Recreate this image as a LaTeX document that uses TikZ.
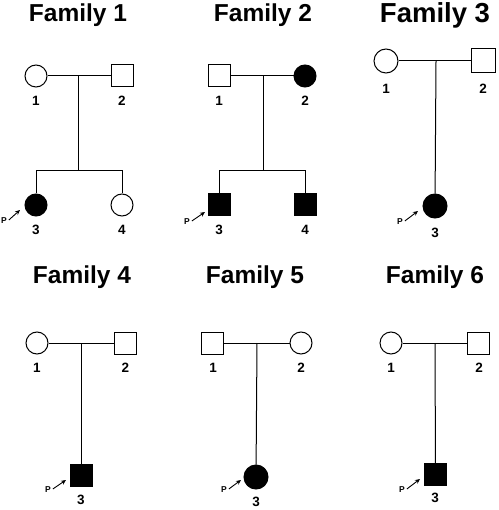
\documentclass[tikz,border=0pt]{standalone}
\usepackage{fontspec}
\setmainfont{Liberation Sans}
\usetikzlibrary{arrows.meta}
\begin{document}
\begin{tikzpicture}[x=1pt,y=-1pt,line width=1pt,
  fem/.style={circle,draw,minimum size=22pt,inner sep=0pt},
  mal/.style={rectangle,draw,minimum size=22pt,inner sep=0pt},
  big/.style={minimum size=24pt},
  aff/.style={fill=black},
  ttl/.style={font=\fontsize{24.5}{25}\selectfont\bfseries,inner sep=0pt},
  bigttl/.style={font=\fontsize{27.5}{28}\selectfont\bfseries,inner sep=0pt},
  num/.style={font=\fontsize{13.5}{14}\selectfont\bfseries,inner sep=0pt},
  prb/.style={font=\fontsize{8.5}{9}\selectfont\bfseries,inner sep=0pt},
  parr/.style={line width=0.9pt,-{Stealth[length=5pt,width=4.5pt]}}]
\useasboundingbox (0,0) rectangle (498,510);
% ---------- Family 1
\node[ttl] (t1) at (78,15) {Family 1};
\node[fem] (a1) at (36,76) {};
\node[mal] (b1) at (122,76) {};
\node[fem,aff] (c1) at (36,205) {};
\node[fem] (d1) at (122,205) {};
\coordinate (m1) at (78,76);
\coordinate (s1) at (78,171);
\draw (a1) -- (b1);
\draw (m1) -- (s1);
\draw (c1) -- (c1 |- s1) -- (d1 |- s1) -- (d1);
\node[num] (la1) at (36,101) {1};
\node[num] (lb1) at (122,101) {2};
\node[num] (lc1) at (36,230) {3};
\node[num] (ld1) at (122,230) {4};
\node[prb] (p1) at (4,221) {P};
\coordinate (q1) at (20,210);
\draw[parr] (p1.east) ++(1.5,-1) -- (q1);
% ---------- Family 2
\node[ttl] (t2) at (263,15) {Family 2};
\node[mal] (a2) at (219,76) {};
\node[fem,aff] (b2) at (305,76) {};
\node[mal,aff] (c2) at (219,205) {};
\node[mal,aff] (d2) at (305,205) {};
\coordinate (m2) at (263,76);
\coordinate (s2) at (263,171);
\draw (a2) -- (b2);
\draw (m2) -- (s2);
\draw (c2) -- (c2 |- s2) -- (d2 |- s2) -- (d2);
\node[num] (la2) at (219,101) {1};
\node[num] (lb2) at (305,101) {2};
\node[num] (lc2) at (219,230) {3};
\node[num] (ld2) at (305,230) {4};
\node[prb] (p2) at (187,222) {P};
\coordinate (q2) at (205,212);
\draw[parr] (p2.east) ++(1.5,-1) -- (q2);
% ---------- Family 3
\node[bigttl] (t3) at (435,15) {Family 3};
\node[fem,big] (a3) at (386,61) {};
\node[mal,big] (b3) at (483,61) {};
\node[fem,big,aff] (c3) at (435,206) {};
\coordinate (m3) at (436,61);
\draw (a3) -- (b3);
\draw (m3) -- (c3);
\node[num] (la3) at (386,89) {1};
\node[num] (lb3) at (483,89) {2};
\node[num] (lc3) at (435,233) {3};
\node[prb] (p3) at (400,222) {P};
\coordinate (q3) at (418,211);
\draw[parr] (p3.east) ++(1.5,-1) -- (q3);
% ---------- Family 4
\node[ttl] (t4) at (82,277) {Family 4};
\node[fem] (a4) at (37,343) {};
\node[mal] (b4) at (125.5,343) {};
\node[mal,aff] (c4) at (81,475.5) {};
\coordinate (m4) at (81,343);
\draw (a4) -- (b4);
\draw (m4) -- (c4);
\node[num] (la4) at (37,368) {1};
\node[num] (lb4) at (125.5,368) {2};
\node[num] (lc4) at (81,500) {3};
\node[prb] (p4) at (48,490) {P};
\coordinate (q4) at (66,480);
\draw[parr] (p4.east) ++(1.5,-1) -- (q4);
% ---------- Family 5
\node[ttl] (t5) at (255,277) {Family 5};
\node[mal] (a5) at (212,343) {};
\node[fem] (b5) at (301,343) {};
\node[fem,big,aff] (c5) at (256,477) {};
\coordinate (m5) at (257,343);
\draw (a5) -- (b5);
\draw (m5) -- (c5);
\node[num] (la5) at (213,368) {1};
\node[num] (lb5) at (301,368) {2};
\node[num] (lc5) at (256,502) {3};
\node[prb] (p5) at (224,490) {P};
\coordinate (q5) at (241,480);
\draw[parr] (p5.east) ++(1.5,-1) -- (q5);
% ---------- Family 6
\node[ttl] (t6) at (435,277) {Family 6};
\node[fem] (a6) at (391,343) {};
\node[mal] (b6) at (478.5,343) {};
\node[mal,aff] (c6) at (435.5,474.5) {};
\coordinate (m6) at (435,343);
\draw (a6) -- (b6);
\draw (m6) -- (c6);
\node[num] (la6) at (391,368) {1};
\node[num] (lb6) at (479,368) {2};
\node[num] (lc6) at (435,498) {3};
\node[prb] (p6) at (402,490) {P};
\coordinate (q6) at (420,479);
\draw[parr] (p6.east) ++(1.5,-1) -- (q6);
\end{tikzpicture}
\end{document}
